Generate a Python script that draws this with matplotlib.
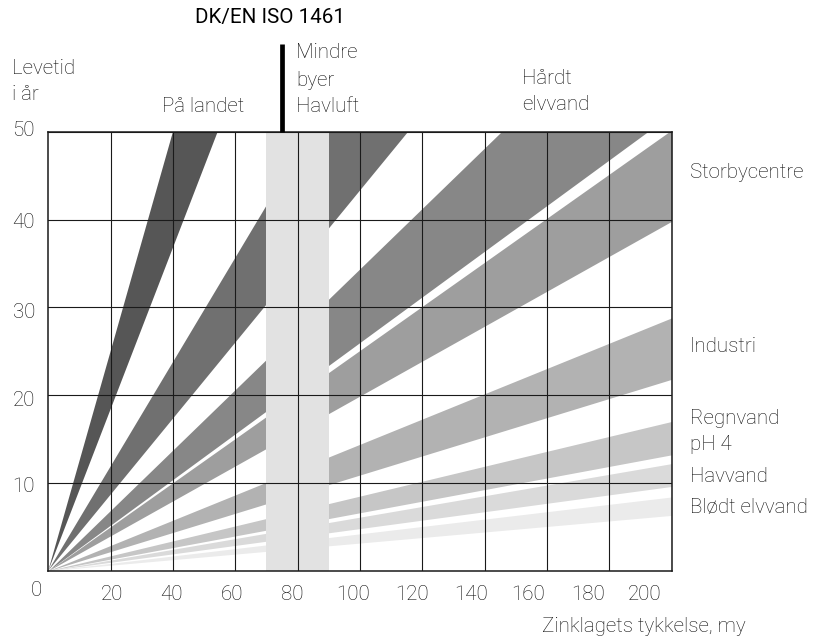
import numpy as np
import matplotlib
matplotlib.use("Agg")
import matplotlib.pyplot as plt

plt.rcParams['font.family'] = ['Roboto', 'DejaVu Sans']

# Levetid for zinklag: hver zone er en vifte fra (0, 0), givet ved to haeldninger (aar pr. my)
zoner = ['På landet', 'Mindre byer / Havluft', 'Hårdt elvvand', 'Storbycentre',
         'Industri', 'Regnvand pH 4', 'Havvand', 'Blødt elvvand']
hoej_haeldning = [1.25, 0.594, 0.344, 0.251, 0.144, 0.085, 0.061, 0.042]
lav_haeldning = [0.92, 0.433, 0.260, 0.199, 0.109, 0.066, 0.048, 0.0315]
farver = ['#565656', '#707070', '#878787', '#9e9e9e',
          '#b2b2b2', '#c6c6c6', '#dadada', '#ebebeb']

# ISO 1461-omraade og markering
iso_fra, iso_til = 70, 90
iso_streg = 75

x_ticks = [20, 40, 60, 80, 100, 120, 140, 160, 180, 200]
y_ticks = [10, 20, 30, 40, 50]

W, H = 816, 641
fig = plt.figure(figsize=(W / 100, H / 100), dpi=100)
L, R, T, B = 48.3, 671.7, 131.7, 570.7
ax = fig.add_axes([L / W, 1 - B / H, (R - L) / W, (B - T) / H])
ax.set_xlim(0, 200)
ax.set_ylim(0, 50)

x = np.array([0, 200])
for hi, lo, c in zip(hoej_haeldning, lav_haeldning, farver):
    ax.fill_between(x, lo * x, hi * x, color=c, lw=0, zorder=1)

ax.axvspan(iso_fra, iso_til, color='#e2e2e2', lw=0, zorder=1.5)
ax.plot([iso_streg, iso_streg], [50, 60], color='black', lw=3.4,
        clip_on=False, solid_capstyle='butt', zorder=5)

ax.set_xticks(x_ticks)
ax.set_yticks(y_ticks)
ax.set_axisbelow(False)
ax.grid(True, color='#1a1a1a', lw=0.8)
ax.tick_params(length=0, labelbottom=False, labelleft=False)
for s in ax.spines.values():
    s.set_linewidth(1.1)
    s.set_color('#1a1a1a')
    s.set_zorder(4)


def px_text(px, py, s, **kw):
    kw.setdefault('fontsize', 14.8)
    kw.setdefault('color', '#0d0d0d')
    kw.setdefault('fontweight', 'light')
    kw.setdefault('va', 'center')
    kw.setdefault('ha', 'left')
    fig.text(px / W, 1 - py / H, s, **kw)


# aksetal (placeret som i forlaegget)
x_label_px = [112, 171, 232, 292, 353, 412, 471, 528, 588, 645]
for lab, px in zip(x_ticks, x_label_px):
    px_text(px, 595, str(lab), ha='center')
y_label_py = [487, 401, 312, 222, 131]
for lab, py in zip(y_ticks, y_label_py):
    px_text(35, py, str(lab), ha='right')
px_text(36, 590, '0', ha='center')

px_text(270, 18, 'DK/EN ISO 1461', ha='center', fontweight='normal', color='black')
px_text(12, 69, 'Levetid')
px_text(12, 94, 'i år')
px_text(162, 107, 'På landet')
px_text(296, 52, 'Mindre')
px_text(296, 80, 'byer')
px_text(296, 106, 'Havluft')
px_text(522, 78, 'Hårdt')
px_text(522, 104, 'elvvand')
px_text(690, 173, 'Storbycentre')
px_text(690, 346, 'Industri')
px_text(690, 419, 'Regnvand')
px_text(690, 445, 'pH 4')
px_text(690, 476, 'Havvand')
px_text(690, 507, 'Blødt elvvand')
px_text(542, 627, 'Zinklagets tykkelse, my')

fig.savefig('out.png', dpi=100)
